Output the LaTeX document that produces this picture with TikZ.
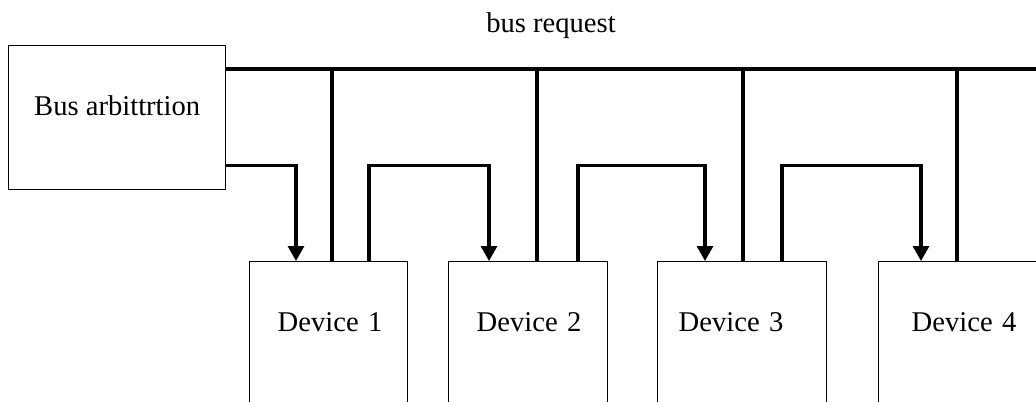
\documentclass[tikz,border=0pt]{standalone}
\usepackage{fontspec}
\setmainfont{Liberation Serif}
\usetikzlibrary{arrows.meta, calc}
\newcommand{\boxfont}{\fontsize{14.3}{17}\selectfont}
\tikzset{
  arbbox/.style  ={rectangle, draw, line width=0.7pt, anchor=north west, inner xsep=0pt,
                   inner ysep=0pt, minimum width=108.5pt, text height=35pt, text depth=37pt,
                   font=\boxfont},
  devbox/.style  ={rectangle, draw, line width=0.7pt, anchor=north west, inner ysep=0pt,
                   align=left, text height=35pt, text depth=60pt, font=\boxfont},
  bus/.style     ={line width=1.6pt},
  grant/.style   ={-{Triangle[length=7.5pt, width=8pt]}, line width=1.6pt},
  buslabel/.style={font=\boxfont, anchor=base},
}
\begin{document}
\begin{tikzpicture}[x=0.5pt, y=-0.5pt]
\useasboundingbox (0,0) rectangle (1036,401);
\clip (0,0) rectangle (1036,401);
% arbiter and the four devices
\node[arbbox] (arb) at (8,45) {Bus arbittrtion};
\node[devbox, inner xsep=14pt, text width=51pt] (d1) at (249,261) {Device~1};
\node[devbox, inner xsep=14pt, text width=51.5pt] (d2) at (448,261) {Device~2};
\node[devbox, inner xsep=10.5pt, text width=63.5pt] (d3) at (657,261) {Device~3};
\node[devbox, inner xsep=16.5pt, text width=51pt] (d4) at (878,261) {Device~4};
% shared request line
\coordinate (busend) at (1045,69);
\node[buslabel] (busreq) at (551,33) {bus request};
\draw[bus] (arb.east |- busend) -- (busend);
\draw[bus] ([xshift=41.5pt]d1.north west) -- ([xshift=41.5pt]d1.north west |- busend);
\draw[bus] ([xshift=44.5pt]d2.north west) -- ([xshift=44.5pt]d2.north west |- busend);
\draw[bus] ([xshift=43pt]d3.north west) -- ([xshift=43pt]d3.north west |- busend);
\draw[bus] ([xshift=39.5pt]d4.north west) -- ([xshift=39.5pt]d4.north west |- busend);
% daisy-chained grant
\coordinate (gl) at ([yshift=12.5pt]arb.south east);
\draw[grant] (gl) -| ([xshift=23.5pt]d1.north west);
\draw[grant] ([xshift=60pt]d1.north west) |- ([xshift=20.5pt]d2.north west |- gl) -- ([xshift=20.5pt]d2.north west);
\draw[grant] ([xshift=65pt]d2.north west) |- ([xshift=24pt]d3.north west |- gl) -- ([xshift=24pt]d3.north west);
\draw[grant] ([xshift=62.5pt]d3.north west) |- ([xshift=21.5pt]d4.north west |- gl) -- ([xshift=21.5pt]d4.north west);
\end{tikzpicture}
\end{document}
